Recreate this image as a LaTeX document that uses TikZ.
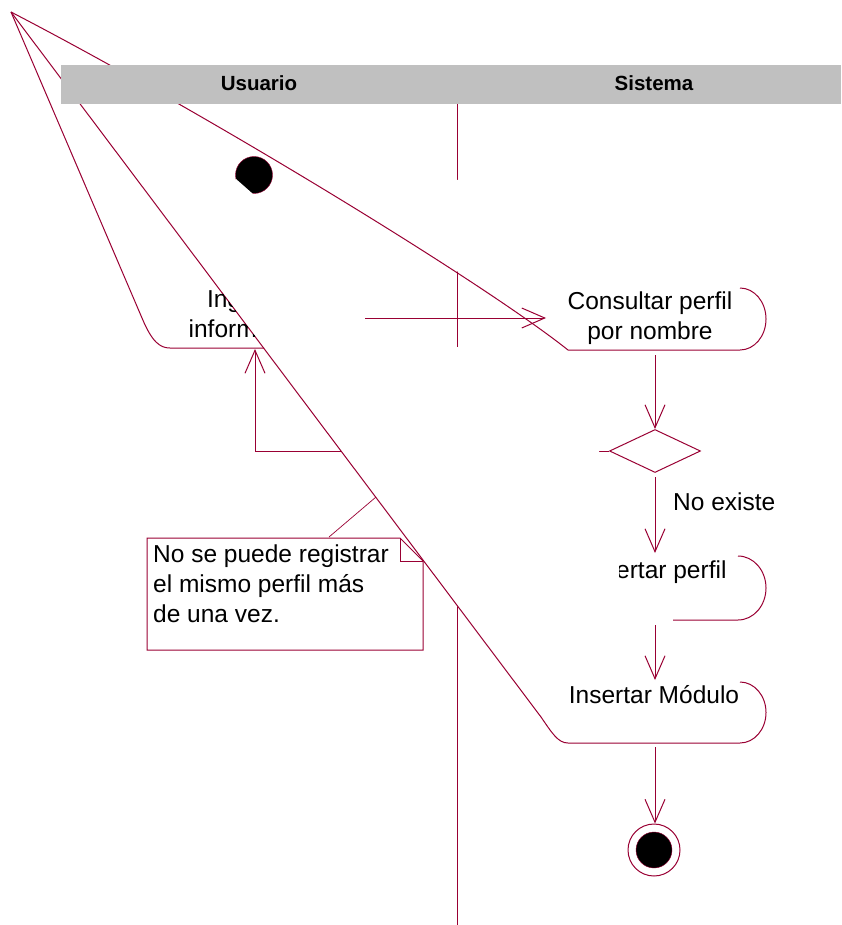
\documentclass[tikz,border=0pt]{standalone}
\usepackage{fontspec}
\setmainfont{Liberation Sans}
\usetikzlibrary{arrows.meta, shapes.geometric}
\definecolor{roseline}{RGB}{153,0,51}
\definecolor{lanegray}{RGB}{192,192,192}

\begin{document}
\begin{tikzpicture}[
  x=1pt, y=-1pt,
  line/.style={draw=roseline, line width=1pt},
  arr/.style={line, -{Straight Barb[length=23pt, width=20pt]}},
  txt/.style={inner sep=0pt, font=\fontsize{24.5}{30}\selectfont, align=center},
  lane/.style={inner sep=0pt, font=\fontsize{20.5}{24}\selectfont\bfseries},
  cover/.style={fill=white, draw=none},
]
  \useasboundingbox (0,0) rectangle (841,925);

  \coordinate (apex) at (11,12);
  \coordinate (ingB) at (255,349);
  \node[diamond, line, minimum width=91pt, minimum height=43pt, inner sep=0pt] (dec) at (655,451) {};

  % lane separator and back loop, partly hidden
  \draw[line] (457,104) -- (457,925);
  \draw[arr] (dec.west) -| (ingB);
  \fill[cover] (400,180) -- (520,180) -- (520,310) -- (400,236) -- cycle;
  \fill[cover] (263,347) -- (599,347) -- (599,795) -- cycle;

  % activity outlines
  \draw[line] (apex) -- (142,318) .. controls (152,342) and (160,348) .. (170,348) -- (264,348);
  \draw[line] (apex) .. controls (200,110) and (480,280) .. (568,350) -- (740,350)
    arc[start angle=90, end angle=-90, x radius=26, y radius=31];
  \draw[line] (673,620) -- (738,620) arc[start angle=90, end angle=-90, x radius=28, y radius=32];
  \draw[line] (apex) -- (541,717) .. controls (552,733) and (558,743) .. (568,743) -- (740,743)
    arc[start angle=90, end angle=-90, x radius=26, y radius=30.5];

  % swimlanes
  \fill[lanegray] (61,65) rectangle (841,104);
  \node[lane, anchor=base] (usuario) at (259,91) {Usuario};
  \node[lane, anchor=base] (sistema) at (654,91) {Sistema};

  \begin{scope}
    \clip (0,12) -- (apex) -- (541,717) -- (0,717) -- cycle;
    \node[txt] (ingresar) at (252,314) {Ingresar\\información};
  \end{scope}
  \node[txt] (consultar) at (650,318.5) {Consultar perfil\\por nombre};
  \begin{scope}
    \clip (619,540) rectangle (760,600);
    \node[txt, anchor=base] (insPerfil) at (655,578) {Insertar perfil};
  \end{scope}
  \node[txt, anchor=base] (insModulo) at (654,703) {Insertar Módulo};

  \node[circle, fill=black, draw=roseline, minimum size=37pt, inner sep=0pt] (start) at (254,175) {};
  \fill[cover] (236,179) -- (253,194) -- (234,196) -- cycle;
  \node[circle, line, minimum size=52pt, inner sep=0pt] (end) at (654,850) {};
  \node[circle, fill=black, draw=roseline, minimum size=36pt, inner sep=0pt] (endIn) at (end) {};

  \coordinate (ingE) at (365,318);
  \coordinate (conW) at (546,318);
  \coordinate (conS) at (655,355);
  \coordinate (perfilN) at (655,553);
  \coordinate (perfilS) at (655,625);
  \coordinate (moduloN) at (655,680);
  \coordinate (moduloS) at (655,747);

  \draw[arr] (ingE) -- (conW);
  \draw[arr] (conS) -- (dec.north);
  \draw[arr] ([yshift=-4pt]dec.south) -- (perfilN);
  \node[txt, anchor=base west] (noExiste) at (673,510) {No existe};
  \draw[arr] (perfilS) -- (moduloN);
  \draw[arr] (moduloS) -- (moduloS |- end.north);

  % note
  \draw[line] (147,538) -- (400,538) -- (423,561) -- (423,650) -- (147,650) -- cycle;
  \draw[line, line width=0.7pt] (400,538) -- (400,561) -- (423,561);
  \node[txt, align=left, anchor=west] (nota) at (153,583.5) {No se puede registrar\\el mismo perfil más\\de una vez.};
  \coordinate (notaAnc) at (329,537);
  \coordinate (notaEnd) at (376,497);
  \draw[line, line width=0.7pt] (notaAnc) -- (notaEnd);
\end{tikzpicture}
\end{document}
